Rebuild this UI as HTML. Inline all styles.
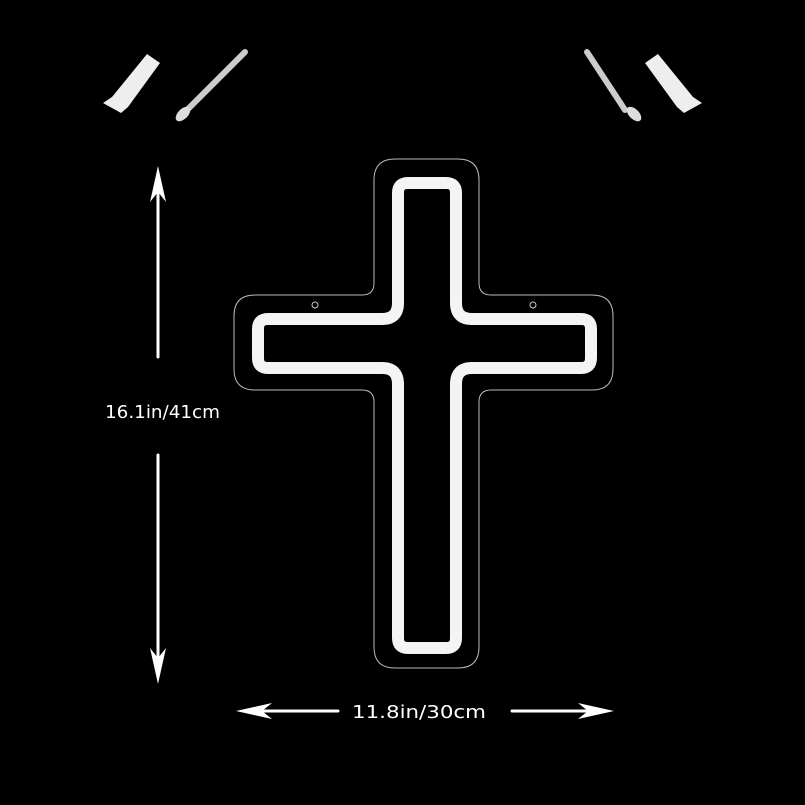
<!DOCTYPE html>
<html><head><style>
html,body{margin:0;padding:0;background:#000;}
svg{display:block}
</style></head><body>
<svg width="805" height="805" viewBox="0 0 805 805" xmlns="http://www.w3.org/2000/svg">
<rect width="805" height="805" fill="#000"/>
<path d="M395 159 H458 Q479 159 479 180 V283 Q479 295 491 295 H592 Q613 295 613 316 V369 Q613 390 592 390 H491 Q479 390 479 402 V647 Q479 668 458 668 H395 Q374 668 374 647 V402 Q374 390 362 390 H255 Q234 390 234 369 V316 Q234 295 255 295 H362 Q374 295 374 283 V180 Q374 159 395 159 Z" fill="none" stroke="#bbb" stroke-width="1"/>
<circle cx="315" cy="305" r="3" fill="none" stroke="#ccc" stroke-width="1"/>
<circle cx="533" cy="305" r="3" fill="none" stroke="#ccc" stroke-width="1"/>
<path d="M408 183 H446 Q456 183 456 193 V303 Q456 319 472 319 H581 Q591 319 591 329 V358 Q591 368 581 368 H472 Q456 368 456 384 V638 Q456 648 446 648 H408 Q398 648 398 638 V384 Q398 368 382 368 H268 Q258 368 258 358 V329 Q258 319 268 319 H382 Q398 319 398 303 V193 Q398 183 408 183 Z" fill="none" stroke="#f4f4f4" stroke-width="12" stroke-linejoin="round"/>
<g stroke="#fff" stroke-width="3" fill="none" stroke-linecap="round">
<line x1="158" y1="175" x2="158" y2="357"/>
<line x1="158" y1="455" x2="158" y2="672"/>
<line x1="248" y1="711" x2="338" y2="711"/>
<line x1="512" y1="711" x2="602" y2="711"/>
</g>
<g fill="#fff">
<polygon points="158,166 150,202 158,192 166,202"/>
<polygon points="158,684 150,648 158,658 166,648"/>
<polygon points="236,711 272,703 262,711 272,719"/>
<polygon points="614,711 578,703 588,711 578,719"/>
</g>
<text x="105" y="418" fill="#fff" font-family="DejaVu Sans, sans-serif" font-size="18" textLength="115" lengthAdjust="spacingAndGlyphs">16.1in/41cm</text>
<text x="352" y="718" fill="#fff" font-family="DejaVu Sans, sans-serif" font-size="18" textLength="134" lengthAdjust="spacingAndGlyphs">11.8in/30cm</text>
<g fill="#eee">
<polygon points="103,103 112,97 147,54 160,63 128,107 121,113"/>
<polygon points="702,103 693,97 658,54 645,63 677,107 684,113"/>
</g>
<g stroke="#ccc" stroke-width="6" stroke-linecap="round">
<line x1="185" y1="112" x2="245" y2="52"/>
<line x1="625" y1="110" x2="587" y2="52"/>
</g>
<g fill="#ddd">
<ellipse cx="183" cy="114" rx="9" ry="5" transform="rotate(-45 183 114)"/>
<ellipse cx="634" cy="114" rx="9" ry="5" transform="rotate(45 634 114)"/>
</g>
</svg>
</body></html>
